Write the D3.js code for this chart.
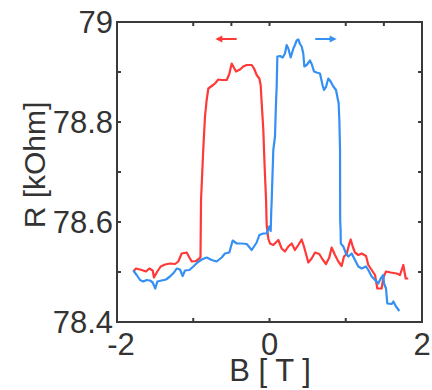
<!DOCTYPE html>
<html>
<head>
<meta charset="utf-8">
<script src="https://cdn.jsdelivr.net/npm/d3@7"></script>
<style>
  body { margin: 0; background: #fff; }
  text { font-family: "Liberation Sans", Arial, sans-serif; fill: #333; }
</style>
</head>
<body>
<div id="chart"></div>
<script>
// field sweep down (red, arrow left)
const redB = [-1.786,-1.751,-1.676,-1.620,-1.576,-1.532,-1.515,-1.471,-1.427,-1.370,-1.305,-1.239,-1.196,-1.152,-1.086,-1.051,-1.020,-0.964,-0.920,-0.905,
  -0.898,-0.868,-0.846,-0.824,-0.802,-0.758,-0.715,-0.671,-0.627,-0.561,-0.527,-0.496,-0.475,-0.439,-0.387,-0.344,-0.299,-0.233,-0.203,-0.168,
  -0.133,-0.116,-0.102,-0.081,-0.072,-0.061,-0.045,-0.037,-0.016,0.007,0.050,0.116,0.160,0.203,0.247,0.291,0.334,0.378,0.422,0.452,
  0.509,0.553,0.597,0.653,0.697,0.741,0.784,0.815,0.859,0.903,0.946,0.977,1.012,1.047,1.065,1.091,1.121,1.165,1.209,1.266,
  1.296,1.340,1.384,1.414,1.471,1.493,1.528,1.590,1.668,1.711,1.755,1.786,1.820];
const redR = [78.501,78.507,78.504,78.501,78.507,78.503,78.489,78.501,78.511,78.515,78.517,78.516,78.521,78.537,78.539,78.529,78.521,78.522,78.527,78.530,
  78.644,78.747,78.811,78.844,78.867,78.872,78.877,78.885,78.884,78.884,78.896,78.917,78.911,78.901,78.905,78.911,78.914,78.914,78.907,78.894,
  78.887,78.874,78.837,78.784,78.744,78.700,78.644,78.594,78.567,78.557,78.554,78.564,78.547,78.541,78.551,78.557,78.544,78.554,78.565,78.551,
  78.519,78.527,78.539,78.536,78.525,78.516,78.529,78.549,78.534,78.521,78.512,78.531,78.536,78.557,78.565,78.551,78.539,78.534,78.537,78.532,
  78.514,78.504,78.494,78.467,78.467,78.489,78.501,78.499,78.497,78.494,78.514,78.487,78.487];

// field sweep up (blue, arrow right)
const blueB = [-1.786,-1.742,-1.698,-1.655,-1.611,-1.567,-1.532,-1.498,-1.471,-1.414,-1.357,-1.305,-1.252,-1.217,-1.174,-1.139,-1.108,-1.051,-0.999,-0.946,
  -0.889,-0.824,-0.758,-0.693,-0.627,-0.584,-0.527,-0.483,-0.430,-0.365,-0.299,-0.233,-0.203,-0.168,-0.133,-0.081,-0.037,-0.002,0.016,0.022,
  0.029,0.050,0.072,0.085,0.094,0.103,0.138,0.173,0.203,0.225,0.247,0.278,0.313,0.334,0.356,0.378,0.400,0.422,0.443,0.457,
  0.488,0.531,0.553,0.584,0.619,0.662,0.697,0.715,0.741,0.771,0.802,0.837,0.872,0.889,0.907,0.916,0.925,0.927,0.933,0.935,
  0.968,1.003,1.034,1.078,1.121,1.165,1.209,1.266,1.296,1.340,1.384,1.427,1.458,1.493,1.502,1.528,1.545,1.603,1.624,1.659,1.703];
const blueR = [78.503,78.494,78.484,78.481,78.484,78.483,78.479,78.467,78.481,78.483,78.485,78.491,78.499,78.507,78.505,78.492,78.503,78.504,78.511,78.519,
  78.525,78.529,78.524,78.521,78.529,78.537,78.539,78.563,78.557,78.557,78.556,78.544,78.551,78.559,78.574,78.577,78.577,78.591,78.582,78.617,
  78.644,78.744,78.771,78.837,78.871,78.931,78.932,78.929,78.937,78.954,78.947,78.929,78.947,78.954,78.963,78.965,78.956,78.951,78.937,78.911,
  78.914,78.923,78.916,78.901,78.899,78.897,78.873,78.864,78.870,78.887,78.881,78.871,78.864,78.851,78.837,78.804,78.744,78.604,78.581,78.557,
  78.551,78.537,78.531,78.537,78.524,78.511,78.507,78.511,78.504,78.491,78.484,78.477,78.487,78.494,78.477,78.467,78.437,78.436,78.441,78.431,78.422];

// ticks and labels
const xTicks = [-2, -1, 0, 1, 2];
const xLabels = [-2, 0, 2];
const xTopTicks = [-1, -0.5, 0, 1, 1.5];
const yTicks = [78.4, 78.5, 78.6, 78.7, 78.8, 78.9, 79];
const yLabels = [78.4, 78.6, 78.8, 79];

// sweep direction arrows [from, to] in B, at level R
const redArrow = [-0.43, -0.71];
const blueArrow = [0.60, 0.88];
const arrowR = 78.966;

const W = 432, H = 390;
const margin = { top: 22, right: 10, bottom: 67, left: 117 };

const svg = d3.select("#chart").append("svg")
  .attr("width", W).attr("height", H);

const x = d3.scaleLinear().domain([-2, 2]).range([margin.left, W - margin.right]);
const y = d3.scaleLinear().domain([78.4, 79]).range([H - margin.bottom - 1, margin.top]);

const red = "#ff3838", blue = "#3590f3", ink = "#3a3a3a";

// lines
const line = d3.line().x(d => x(d[0])).y(d => y(d[1]));
svg.append("path")
  .datum(redB.map((b, i) => [b, redR[i]]))
  .attr("d", line).attr("fill", "none")
  .attr("stroke", red).attr("stroke-width", 2.2).attr("stroke-linejoin", "round");
svg.append("path")
  .datum(blueB.map((b, i) => [b, blueR[i]]))
  .attr("d", line).attr("fill", "none")
  .attr("stroke", blue).attr("stroke-width", 2.2).attr("stroke-linejoin", "round");

// arrows
function arrow(pair, col) {
  const x0 = x(pair[0]), x1 = x(pair[1]), yy = y(arrowR);
  const dir = Math.sign(x1 - x0);
  svg.append("line")
    .attr("x1", x0).attr("x2", x1 - dir * 2).attr("y1", yy).attr("y2", yy)
    .attr("stroke", col).attr("stroke-width", 2);
  svg.append("path")
    .attr("d", `M${x1},${yy} L${x1 - dir * 7},${yy - 3.5} L${x1 - dir * 7},${yy + 3.5} Z`)
    .attr("fill", col);
}
arrow(redArrow, red);
arrow(blueArrow, blue);

// frame
const x0 = x(-2), x1 = x(2), yb = y(78.4), yt = y(79);
svg.append("rect")
  .attr("x", x0).attr("y", yt).attr("width", x1 - x0).attr("height", yb - yt)
  .attr("fill", "none").attr("stroke", ink).attr("stroke-width", 2);

// inward ticks
const tl = 4;
svg.append("g").selectAll("line").data(xTicks).join("line")
  .attr("x1", d => x(d)).attr("x2", d => x(d))
  .attr("y1", yb).attr("y2", yb - tl)
  .attr("stroke", ink).attr("stroke-width", 2);
svg.append("g").selectAll("line").data(xTopTicks).join("line")
  .attr("x1", d => x(d)).attr("x2", d => x(d))
  .attr("y1", yt).attr("y2", yt + tl)
  .attr("stroke", ink).attr("stroke-width", 2);
svg.append("g").selectAll("line").data(yTicks).join("line")
  .attr("x1", x0).attr("x2", x0 + tl)
  .attr("y1", d => y(d)).attr("y2", d => y(d))
  .attr("stroke", ink).attr("stroke-width", 2);
svg.append("g").selectAll("line").data(yTicks).join("line")
  .attr("x1", x1).attr("x2", x1 - tl)
  .attr("y1", d => y(d)).attr("y2", d => y(d))
  .attr("stroke", ink).attr("stroke-width", 2);

// tick labels
svg.append("g").selectAll("text").data(yLabels).join("text")
  .attr("x", x0 - 4).attr("y", d => y(d) + 11)
  .attr("text-anchor", "end")
  .style("font-size", "31px")
  .text(d => d);
svg.append("g").selectAll("text").data(xLabels).join("text")
  .attr("x", d => x(d) + (d < 0 ? 4 : 0)).attr("y", 355)
  .attr("text-anchor", "middle")
  .style("font-size", "31px")
  .text(d => d);

// axis titles
svg.append("text")
  .attr("x", 270).attr("y", 381)
  .attr("text-anchor", "middle")
  .style("font-size", "31px")
  .text("B [ T ]");
svg.append("text")
  .attr("transform", "translate(45,165) rotate(-90)")
  .attr("text-anchor", "middle")
  .style("font-size", "30px")
  .text("R [kOhm]");
</script>
</body>
</html>
